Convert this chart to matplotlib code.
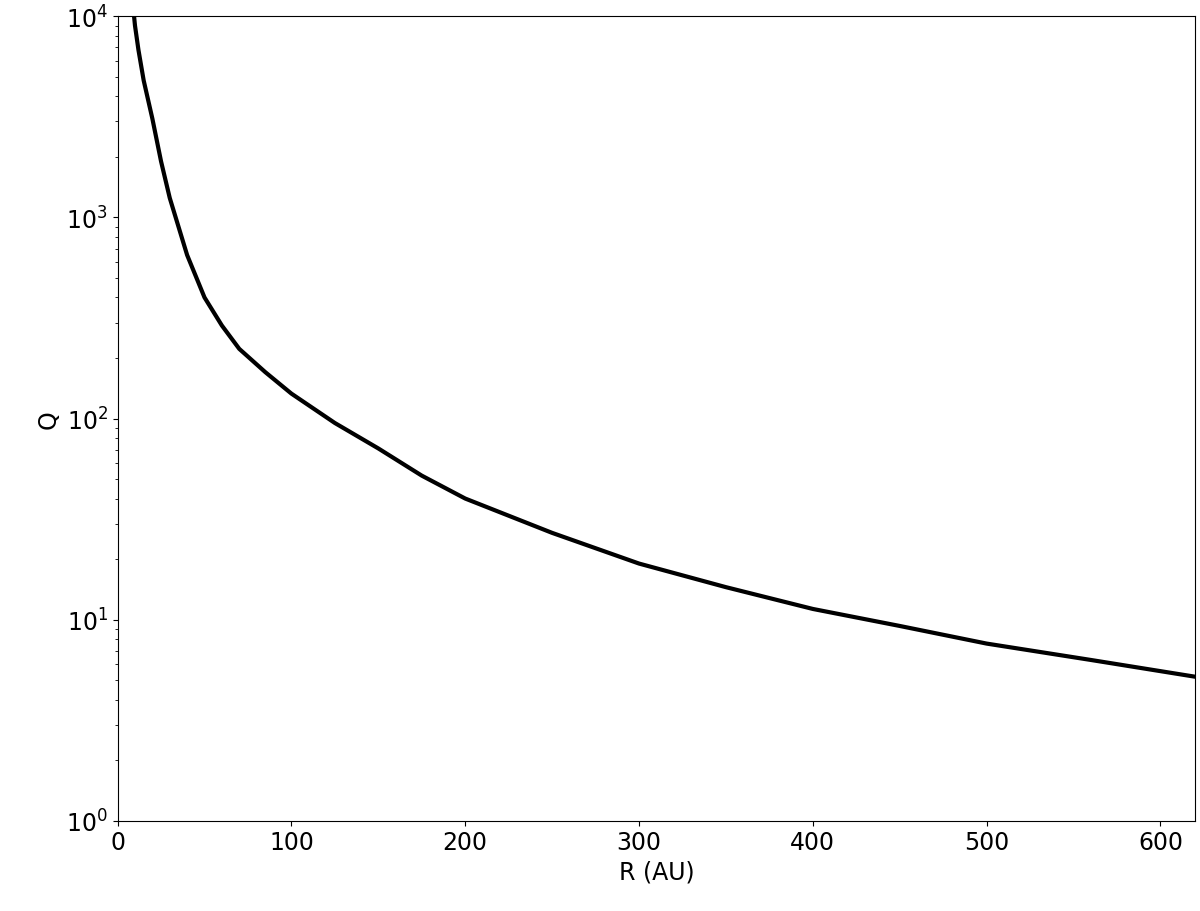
import matplotlib.pyplot as plt

# values
radius_au = [9, 10, 12, 15, 20, 25, 30, 40, 50, 60, 70, 85, 100, 125, 150, 175, 200,
             250, 300, 350, 400, 450, 500, 560, 620]
toomre_q = [11000, 9000, 6800, 4800, 3100, 1900, 1250, 650, 400, 290, 222, 170, 133, 95, 71,
            52, 40, 27, 19, 14.5, 11.3, 9.3, 7.6, 6.3, 5.2]

fig = plt.figure(figsize=(12, 9.12), dpi=100)
ax = fig.add_axes([0.098, 0.099, 0.898, 0.882])
ax.plot(radius_au, toomre_q, color="black", linewidth=3)
ax.set_yscale("log")
ax.set_xlim(0, 620)
ax.set_ylim(1, 1e4)
ax.set_xlabel("R (AU)", fontsize=17)
ax.set_ylabel("Q", fontsize=17)
ax.tick_params(labelsize=17)
fig.savefig("out.png", dpi=100)
